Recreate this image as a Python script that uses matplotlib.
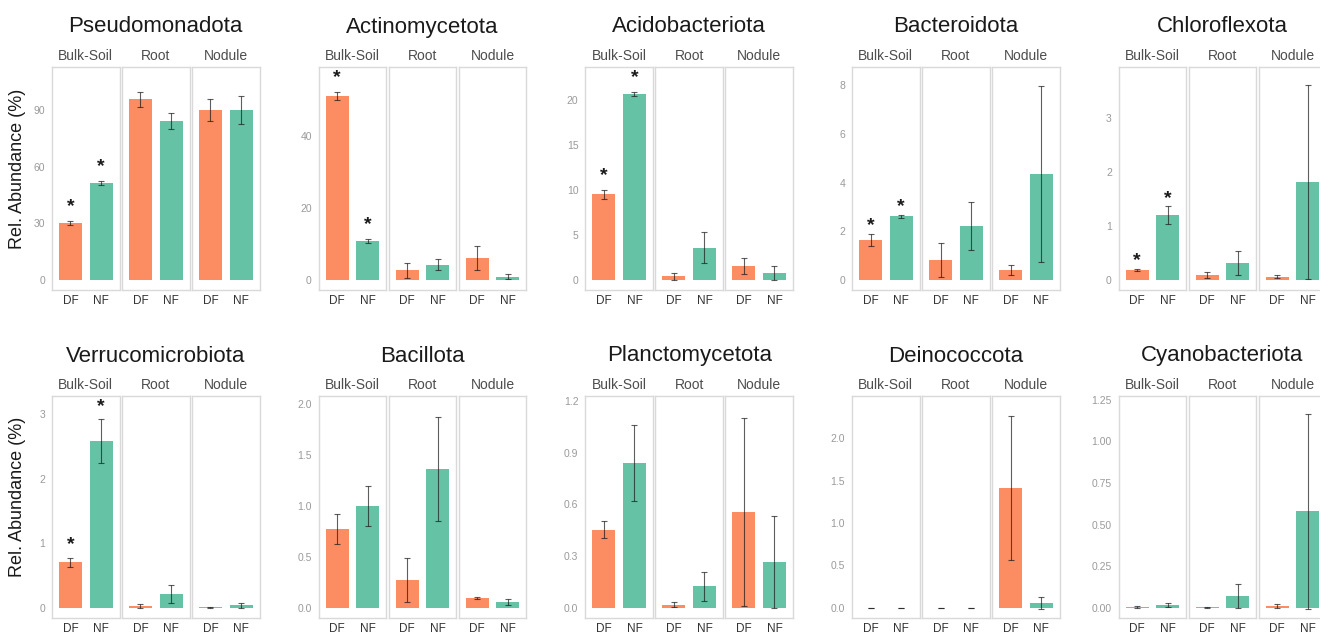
import matplotlib.pyplot as plt
import numpy as np

# ---------------------------------------------------------------------------
# Data: mean relative abundance (%) and SE per compartment (Bulk-Soil, Root, Nodule)
# ---------------------------------------------------------------------------
phyla = ["Pseudomonadota", "Actinomycetota", "Acidobacteriota", "Bacteroidota",
         "Chloroflexota", "Verrucomicrobiota", "Bacillota", "Planctomycetota",
         "Deinococcota", "Cyanobacteriota"]
compartments = ["Bulk-Soil", "Root", "Nodule"]
treatments = ["DF", "NF"]

df_mean = [[30.3, 95.6, 90.1], [50.9, 2.6, 6.1], [9.5, 0.4, 1.5],
           [1.63, 0.81, 0.41], [0.19, 0.09, 0.06], [0.705, 0.036, 0.008],
           [0.775, 0.275, 0.094], [0.453, 0.019, 0.556], [0.002, 0.002, 1.414],
           [0.005, 0.003, 0.010]]
df_err = [[1.0, 4.1, 5.8], [1.2, 2.1, 3.3], [0.5, 0.4, 0.9],
          [0.25, 0.70, 0.22], [0.02, 0.05, 0.03], [0.07, 0.03, 0.005],
          [0.15, 0.215, 0.01], [0.048, 0.015, 0.546], [0.001, 0.001, 0.85],
          [0.005, 0.002, 0.012]]
nf_mean = [[51.3, 84.1, 90.0], [10.7, 4.2, 0.9], [20.7, 3.6, 0.75],
           [2.62, 2.21, 4.37], [1.20, 0.31, 1.82], [2.58, 0.21, 0.04],
           [1.0, 1.363, 0.059], [0.839, 0.125, 0.266], [0.001, 0.001, 0.059],
           [0.016, 0.070, 0.580]]
nf_err = [[1.2, 4.4, 7.3], [0.5, 1.5, 0.6], [0.2, 1.75, 0.77],
          [0.06, 1.0, 3.62], [0.17, 0.22, 1.80], [0.34, 0.14, 0.04],
          [0.2, 0.51, 0.03], [0.22, 0.085, 0.266], [0.001, 0.001, 0.07],
          [0.012, 0.073, 0.585]]

# DF vs NF significant in Bulk-Soil
bulk_sig = [True, True, True, True, True, True, False, False, False, False]

ytick_labels = [["0", "30", "60", "90"], ["0", "20", "40"],
                ["0", "5", "10", "15", "20"], ["0", "2", "4", "6", "8"],
                ["0", "1", "2", "3"], ["0", "1", "2", "3"],
                ["0.0", "0.5", "1.0", "1.5", "2.0"],
                ["0.0", "0.3", "0.6", "0.9", "1.2"],
                ["0.0", "0.5", "1.0", "1.5", "2.0"],
                ["0.00", "0.25", "0.50", "0.75", "1.00", "1.25"]]

colors = {"DF": "#FC8D62", "NF": "#66C2A5"}

plt.rcParams["font.family"] = ["Liberation Sans", "DejaVu Sans"]

W, H = 1320, 636
fig = plt.figure(figsize=(W / 100, H / 100), dpi=100)
fig.patch.set_facecolor("white")


def px_axes(left, top, width, height):
    return fig.add_axes([left / W, 1 - (top + height) / H, width / W, height / H])


panel_w, gap = 67.5, 2.5
row_top = [67, 396]
row_h = [223, 222]
x = np.array([1, 2])

for p, name in enumerate(phyla):
    row, col = divmod(p, 5)
    g_left = 52 + col * 266.7
    top, h = row_top[row], row_h[row]

    means = np.array([df_mean[p], nf_mean[p]])   # (2, 3)
    errs = np.array([df_err[p], nf_err[p]])
    pad = 0.08 * means.max()
    star_y = means + errs + pad
    m = star_y.max()
    ylim = (-0.05 * m, 1.05 * m)

    for c, comp in enumerate(compartments):
        ax = px_axes(g_left + c * (panel_w + gap), top, panel_w, h)
        ax.bar(x, means[:, c], width=0.75,
               color=[colors[t] for t in treatments], zorder=1)
        ax.errorbar(x, means[:, c], yerr=errs[:, c], fmt="none",
                    ecolor=(0.1, 0.1, 0.1, 0.7), elinewidth=0.8,
                    capsize=2.4, capthick=0.8, zorder=2)
        if c == 0 and bulk_sig[p]:
            for i in range(2):
                ax.annotate("*", (x[i], star_y[i, c]), xytext=(0, 0),
                            textcoords="offset points", ha="center", va="center",
                            fontsize=14, fontweight="bold", color="#1a1a1a")
        ax.set_xlim(0.4, 2.6)
        ax.set_ylim(*ylim)
        ax.set_xticks(x)
        ax.set_xticklabels(treatments, fontsize=8.5, color="#333333")
        ticks = [float(t) for t in ytick_labels[p]]
        ax.set_yticks(ticks)
        if c == 0:
            ax.set_yticklabels(ytick_labels[p], fontsize=7.5, color="#9a9a9a")
        else:
            ax.set_yticklabels([])
        ax.tick_params(length=0, pad=3.5)
        ax.tick_params(axis="y", pad=5)
        for s in ax.spines.values():
            s.set_color("#D9D9D9")
            s.set_linewidth(1.0)
        ax.set_title(comp, fontsize=10, color="#4d4d4d", pad=5)

    fig.text((g_left + 103.75) / W, 1 - (top - 40) / H, name,
             ha="center", va="center", fontsize=16, color="#1a1a1a")

for row in range(2):
    fig.text(18 / W, 1 - (row_top[row] + row_h[row] / 2 - 10) / H,
             "Rel. Abundance (%)", rotation=90, ha="center", va="center",
             fontsize=13, color="#1a1a1a")

fig.savefig("out.png", dpi=100)
